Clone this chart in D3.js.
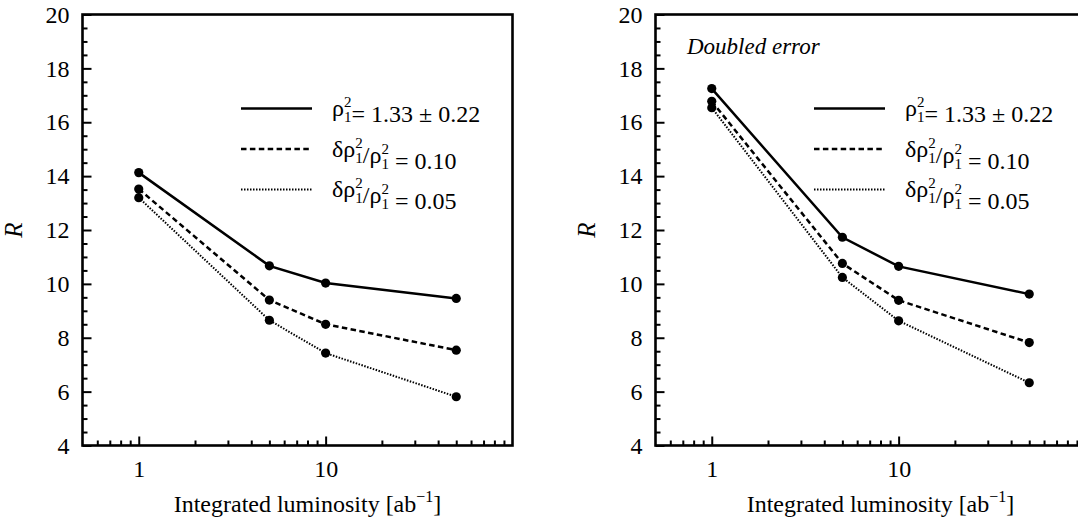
<!DOCTYPE html>
<html>
<head>
<meta charset="utf-8">
<script src="https://cdn.jsdelivr.net/npm/d3@7"></script>
<style>
  body { margin: 0; background: #fff; }
  svg { display: block; }
  svg text { font-family: "Liberation Serif", Tinos, "Times New Roman", Times, "Nimbus Roman", "DejaVu Serif", serif !important; fill: #000; }
</style>
</head>
<body>
<div id="chart"></div>
<script>
// integrated luminosity points [ab^-1]
const lumi = [1, 5, 10, 50];

// left panel: nominal error
const leftNominal = [14.13, 10.67, 10.03, 9.46];
const leftErr10   = [13.52, 9.40, 8.50, 7.54];
const leftErr05   = [13.20, 8.65, 7.43, 5.81];

// right panel: doubled error
const rightNominal = [17.25, 11.73, 10.65, 9.62];
const rightErr10   = [16.78, 10.76, 9.39, 7.82];
const rightErr05   = [16.54, 10.24, 8.63, 6.33];

const yMajorTicks = [4, 6, 8, 10, 12, 14, 16, 18, 20];
const xMajorTicks = [1, 10];
const xLabel = "Integrated luminosity [ab";
const yLabel = "R";
const panelNotes = ["", "Doubled error"];

// legend entries: pieces of text, {s: sup, b: sub} are stacked
const legendLabels = [
  [{t: "ρ"}, {s: "2", b: "1"}, {t: "= 1.33 ± 0.22"}],
  [{t: "δρ"}, {s: "2", b: "1"}, {t: "/ρ"}, {s: "2", b: "1"}, {t: " = 0.10"}],
  [{t: "δρ"}, {s: "2", b: "1"}, {t: "/ρ"}, {s: "2", b: "1"}, {t: " = 0.05"}]
];

const W = 1078, H = 525;
const pw = 430, ph = 431;
const serif = '"Liberation Serif", Tinos, "Times New Roman", Times, "Nimbus Roman", "DejaVu Serif", serif';
const lineStyles = [
  {w: 2.5, dash: null},
  {w: 2.5, dash: "5.5,3.4"},
  {w: 2, dash: "1.5,1.5"}
];

const svg = d3.select("#chart").append("svg")
  .attr("width", W)
  .attr("height", H)
  .attr("font-family", serif);

svg.append("rect").attr("width", W).attr("height", H).attr("fill", "#fff");

const x = d3.scaleLog().domain([0.5, 100]).range([0, pw]);
const y = d3.scaleLinear().domain([4, 20]).range([ph, 0]);

function drawLegendText(sel, parts) {
  parts.forEach(p => {
    if (p.t !== undefined) {
      sel.append("tspan").text(p.t);
    } else {
      sel.append("tspan").attr("dy", -9).attr("font-size", 15).text(p.s);
      sel.append("tspan").attr("dx", -7.5).attr("dy", 15).attr("font-size", 15).text(p.b);
      // back to baseline for the next piece
      sel.append("tspan").attr("dy", -6).text("");
    }
  });
}

function drawPanel(left, series, note) {
  const g = svg.append("g").attr("transform", `translate(${left},14.5)`);

  // minor ticks first
  const yMinor = d3.range(4, 20.01, 0.5).filter(v => v % 2 !== 0);
  g.append("g")
    .call(d3.axisLeft(y).tickValues(yMinor).tickSize(-5).tickFormat(""))
    .call(a => a.select(".domain").remove())
    .selectAll("line").attr("stroke-width", 2);

  const xMinor = [0.6, 0.7, 0.8, 0.9, 2, 3, 4, 5, 6, 7, 8, 9, 20, 30, 40, 50, 60, 70, 80, 90];
  g.append("g")
    .attr("transform", `translate(0,${ph})`)
    .call(d3.axisBottom(x).tickValues(xMinor).tickSize(-5).tickFormat(""))
    .call(a => a.select(".domain").remove())
    .selectAll("line").attr("stroke-width", 2);

  // major ticks with labels
  const ya = g.append("g")
    .call(d3.axisLeft(y).tickValues(yMajorTicks).tickSize(-9).tickPadding(13).tickFormat(d3.format("d")))
    .call(a => a.select(".domain").remove())
    .attr("font-family", serif)
    .attr("font-size", 24);
  ya.selectAll("line").attr("stroke-width", 2);
  ya.selectAll("text").attr("fill", "#000");

  const xa = g.append("g")
    .attr("transform", `translate(0,${ph})`)
    .call(d3.axisBottom(x).tickValues(xMajorTicks).tickSize(-9).tickFormat(d3.format("d")))
    .call(a => a.select(".domain").remove())
    .attr("font-family", serif)
    .attr("font-size", 24);
  xa.selectAll("line").attr("stroke-width", 2);
  xa.selectAll("text")
    .attr("y", 31.5)
    .attr("dy", null)
    .attr("fill", "#000");

  // frame
  g.append("rect")
    .attr("width", pw).attr("height", ph)
    .attr("fill", "none")
    .attr("stroke", "#000")
    .attr("stroke-width", 2.6);

  // axis titles
  g.append("text")
    .attr("transform", `translate(-60.5,${ph / 2}) rotate(-90)`)
    .attr("text-anchor", "middle")
    .attr("font-size", 25)
    .attr("font-style", "italic")
    .text(yLabel);

  const xt = g.append("text")
    .attr("x", 225).attr("y", 497)
    .attr("text-anchor", "middle")
    .attr("font-size", 24);
  xt.append("tspan").text(xLabel);
  xt.append("tspan").attr("dy", -10).attr("font-size", 16).text("−1");
  xt.append("tspan").attr("dy", 10).text("]");

  if (note) {
    g.append("text")
      .attr("x", 31.5).attr("y", 39.5)
      .attr("font-size", 23)
      .attr("font-style", "italic")
      .text(note);
  }

  // legend
  legendLabels.forEach((parts, i) => {
    const ly = 94 + i * 40.5;
    g.append("line")
      .attr("x1", 158.5).attr("x2", 229.5)
      .attr("y1", ly).attr("y2", ly)
      .attr("stroke", "#000")
      .attr("stroke-width", lineStyles[i].w)
      .attr("stroke-dasharray", lineStyles[i].dash);
    const t = g.append("text")
      .attr("x", 249.5).attr("y", ly + 7.5)
      .attr("font-size", 24);
    drawLegendText(t, parts);
  });

  // curves
  const line = d3.line().x((d, i) => x(lumi[i])).y(d => y(d));
  series.forEach((vals, i) => {
    g.append("path")
      .datum(vals)
      .attr("d", line)
      .attr("fill", "none")
      .attr("stroke", "#000")
      .attr("stroke-width", lineStyles[i].w)
      .attr("stroke-dasharray", lineStyles[i].dash);
  });
  series.forEach(vals => {
    g.selectAll(null)
      .data(vals)
      .join("circle")
      .attr("cx", (d, i) => x(lumi[i]))
      .attr("cy", d => y(d))
      .attr("r", 4.6)
      .attr("fill", "#000");
  });
}

drawPanel(82.5, [leftNominal, leftErr10, leftErr05], panelNotes[0]);
drawPanel(655.5, [rightNominal, rightErr10, rightErr05], panelNotes[1]);
</script>
</body>
</html>
